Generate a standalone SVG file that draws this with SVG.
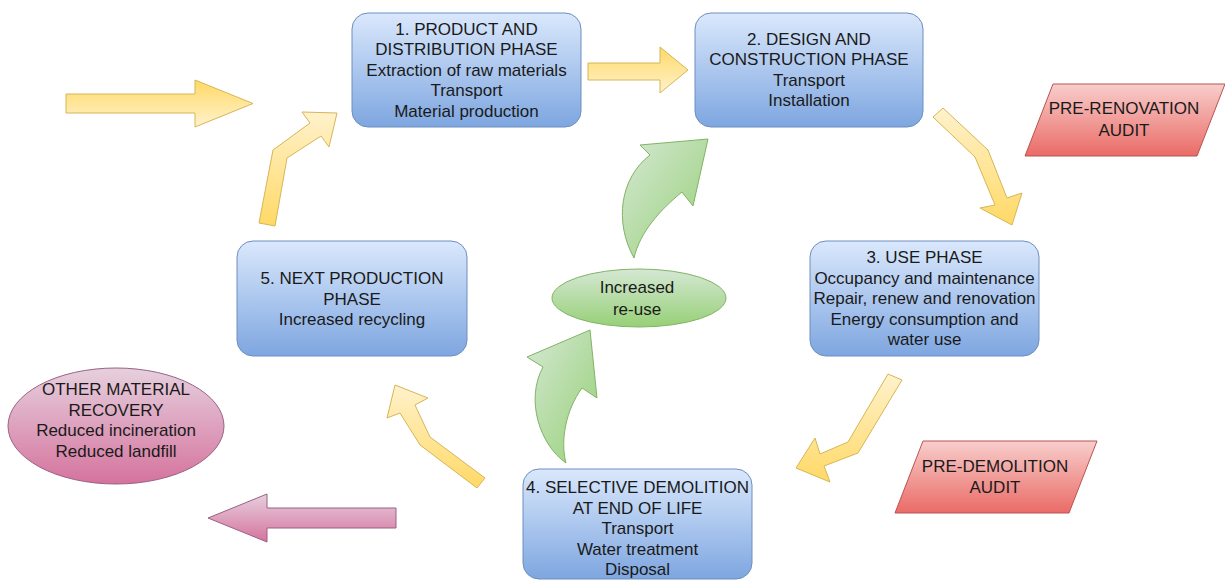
<svg xmlns="http://www.w3.org/2000/svg" width="1225" height="580" viewBox="0 0 1225 580">
<defs>
<linearGradient id="gBlue" x1="0" y1="0" x2="0" y2="1"><stop offset="0" stop-color="#dae8fc"/><stop offset="1" stop-color="#7ea6e0"/></linearGradient>
<linearGradient id="gRed" x1="0" y1="0" x2="0" y2="1"><stop offset="0" stop-color="#f8cecc"/><stop offset="1" stop-color="#ea6b66"/></linearGradient>
<linearGradient id="gPink" x1="0" y1="0" x2="0" y2="1"><stop offset="0" stop-color="#e6d0de"/><stop offset="1" stop-color="#d5739d"/></linearGradient>
<linearGradient id="gGreen" x1="0" y1="0" x2="0" y2="1"><stop offset="0" stop-color="#d5e8d4"/><stop offset="1" stop-color="#97d077"/></linearGradient>
<linearGradient id="gGreenD" x1="0" y1="0" x2="1" y2="1"><stop offset="0" stop-color="#d5e8d4"/><stop offset="1" stop-color="#97d077"/></linearGradient>
<linearGradient id="gYdown" x1="0" y1="0" x2="0" y2="1"><stop offset="0" stop-color="#fff2cc"/><stop offset="1" stop-color="#ffd966"/></linearGradient>
<linearGradient id="gYup" x1="0" y1="0" x2="0" y2="1"><stop offset="0" stop-color="#ffd966"/><stop offset="1" stop-color="#fff2cc"/></linearGradient>
<style>
.t{font-family:"Liberation Sans",Arial,Helvetica,sans-serif;font-size:17px;fill:#1a1a1a;text-anchor:middle}
.box{fill:url(#gBlue);stroke:#6c8ebf;stroke-width:1}
.red{fill:url(#gRed);stroke:#b85450;stroke-width:1}
.pink{fill:url(#gPink);stroke:#996185;stroke-width:1}
.green{fill:url(#gGreen);stroke:#82b366;stroke-width:1}
.greenA{fill:url(#gGreenD);stroke:#82b366;stroke-width:1}
.yd{fill:url(#gYdown);stroke:#d6b656;stroke-width:1}
.yu{fill:url(#gYup);stroke:#d6b656;stroke-width:1}
</style>
</defs>

<g id="connectors">
  <path id="arrow-in" class="yu" d="M66,94 L195,94 L195,80 L253,103.5 L195,127 L195,113 L66,113 Z"/>
  <path id="arrow-1-2" class="yu" d="M588,63 L660,63 L660,47 L688,70 L660,93 L660,80 L588,80 Z"/>
  <path id="arrow-2-3" class="yd" d="M933,117 L975,157 L995,205 L980,208 L1012,225 L1022,193 L1007,198 L988,150 L943,108 Z"/>
  <path id="arrow-3-4" class="yd" d="M888,374 L848,442 L820,454 L815,438 L796,468 L830,482 L824,466 L858,453 L902,380 Z"/>
  <path id="arrow-4-5" class="yd" d="M477,488 L420,445 L400,413 L387,418 L395,385 L428,398 L415,405 L430,437 L485,478 Z"/>
  <path id="arrow-5-1" class="yd" d="M259,223 L273,150 L310,123 L302,112 L337,113 L329,147 L321,136 L287,158 L275,226 Z"/>
  <path id="arrow-out" class="pink" d="M396,508 L267,508 L267,494 L208,518 L267,542 L267,528 L396,528 Z"/>
  <path id="reuse-up" class="greenA" d="M634,258 C614,222 620,178 650,155 L640,145 L708,139 L693,206 L682,192 C660,210 640,232 634,258 Z"/>
  <path id="demolition-reuse" class="greenA" d="M566,463 C540,445 525,400 543,367 L527,357 L590,330 L597,398 L582,388 C566,410 560,440 566,463 Z"/>
</g>

<g id="node1">
  <rect class="box" x="352" y="13" width="229" height="114" rx="16"/>
  <text class="t" x="466.5" y="35">1. PRODUCT AND</text>
  <text class="t" x="466.5" y="55.4">DISTRIBUTION PHASE</text>
  <text class="t" x="466.5" y="75.8">Extraction of raw materials</text>
  <text class="t" x="466.5" y="96.2">Transport</text>
  <text class="t" x="466.5" y="116.6">Material production</text>
</g>

<g id="node2">
  <rect class="box" x="695" y="13" width="228" height="114" rx="16"/>
  <text class="t" x="809" y="44.5">2. DESIGN AND</text>
  <text class="t" x="809" y="65">CONSTRUCTION PHASE</text>
  <text class="t" x="809" y="85.5">Transport</text>
  <text class="t" x="809" y="106">Installation</text>
</g>

<g id="node3">
  <rect class="box" x="810" y="241" width="229" height="115" rx="16"/>
  <text class="t" x="924.5" y="263">3. USE PHASE</text>
  <text class="t" x="924.5" y="283.5">Occupancy and maintenance</text>
  <text class="t" x="924.5" y="304">Repair, renew and renovation</text>
  <text class="t" x="924.5" y="324.5">Energy consumption and</text>
  <text class="t" x="924.5" y="345">water use</text>
</g>

<g id="node4">
  <rect class="box" x="523" y="469" width="229" height="110" rx="16"/>
  <text class="t" x="637.5" y="493">4. SELECTIVE DEMOLITION</text>
  <text class="t" x="637.5" y="513.5">AT END OF LIFE</text>
  <text class="t" x="637.5" y="534">Transport</text>
  <text class="t" x="637.5" y="554.5">Water treatment</text>
  <text class="t" x="637.5" y="575">Disposal</text>
</g>

<g id="node5">
  <rect class="box" x="237" y="241" width="230" height="115" rx="16"/>
  <text class="t" x="352" y="284">5. NEXT PRODUCTION</text>
  <text class="t" x="352" y="304.5">PHASE</text>
  <text class="t" x="352" y="325">Increased recycling</text>
</g>

<g id="reuse">
  <ellipse class="green" cx="639" cy="298" rx="87" ry="29"/>
  <text class="t" x="637" y="293">Increased</text>
  <text class="t" x="637" y="315">re-use</text>
</g>

<g id="other-recovery">
  <ellipse class="pink" cx="116" cy="426" rx="108" ry="58"/>
  <text class="t" x="116" y="395">OTHER MATERIAL</text>
  <text class="t" x="116" y="415.5">RECOVERY</text>
  <text class="t" x="116" y="436">Reduced incineration</text>
  <text class="t" x="116" y="456.5">Reduced landfill</text>
</g>

<g id="pre-renovation">
  <polygon class="red" points="1053,84 1225,84 1197,156 1025,156"/>
  <text class="t" x="1124" y="114">PRE-RENOVATION</text>
  <text class="t" x="1124" y="136">AUDIT</text>
</g>

<g id="pre-demolition">
  <polygon class="red" points="923,441 1097,441 1069,513 895,513"/>
  <text class="t" x="995" y="472">PRE-DEMOLITION</text>
  <text class="t" x="995" y="493">AUDIT</text>
</g>
</svg>
